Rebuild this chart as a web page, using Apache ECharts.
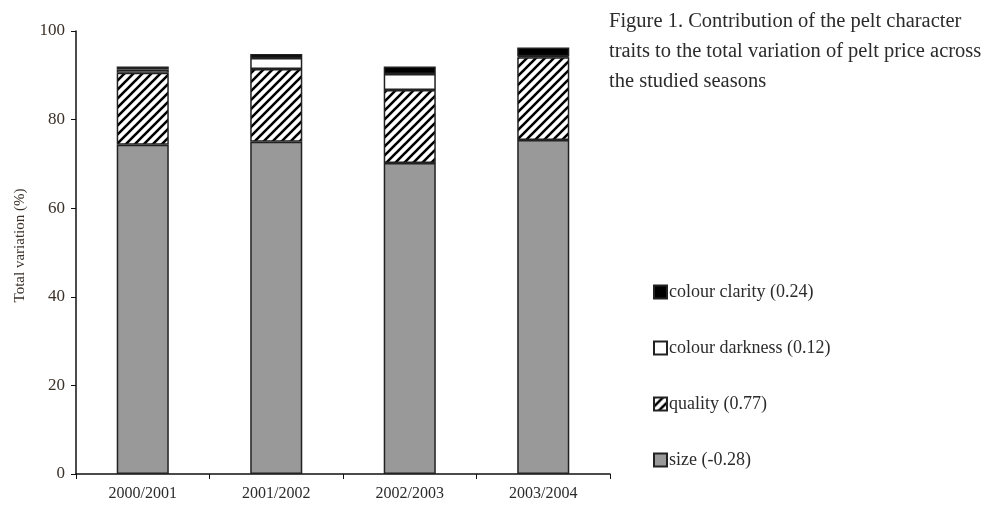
<!DOCTYPE html>
<html>
<head>
    <meta charset="UTF-8">
    <title>Pelt price variation</title>
    <style>
        html, body { margin: 0; padding: 0; background: #fff; }
        #chart { width: 989px; height: 517px; }
    </style>
</head>
<body>
    <div id="chart"></div>
    <script src="https://cdn.jsdelivr.net/npm/echarts@6/dist/echarts.min.js"></script>
    <script type="text/javascript">
        // seasons and contributions (%)
        var seasons = ['2000/2001', '2001/2002', '2002/2003', '2003/2004'];
        var size = [74.3, 75.0, 70.2, 75.4];
        var quality = [16.3, 16.4, 16.5, 18.7];
        var darkness = [0.7, 2.5, 3.6, 0.2];
        var clarity = [0.7, 0.9, 1.7, 2.0];
        var names = ['size (-0.28)', 'quality (0.77)', 'colour darkness (0.12)', 'colour clarity (0.24)'];
        var yTicks = [0, 20, 40, 60, 80, 100];

        // hatch pattern for the quality segment
        function hatch() {
            var c = document.createElement('canvas');
            c.width = 9; c.height = 9;
            var ctx = c.getContext('2d');
            ctx.fillStyle = '#fff';
            ctx.fillRect(0, 0, 9, 9);
            ctx.strokeStyle = '#000';
            ctx.lineWidth = 2.6;
            ctx.beginPath();
            for (var k = -1; k <= 1; k++) {
                ctx.moveTo(k * 9 - 1, 10);
                ctx.lineTo(k * 9 + 10, -1);
            }
            ctx.stroke();
            return c;
        }

        var chart = echarts.init(document.getElementById('chart'));
        var serif = 'Liberation Serif';
        var border = { borderColor: '#222', borderWidth: 1.5 };

        function seg(name, data, color) {
            return {
                name: name,
                type: 'bar',
                stack: 'total',
                barWidth: '39%',
                data: data,
                itemStyle: Object.assign({ color: color }, border),
                emphasis: { disabled: true }
            };
        }

        option = {
            animation: false,
            title: {
                text: 'Figure 1. Contribution of the pelt character\ntraits to the total variation of pelt price across\nthe studied seasons',
                left: 604,
                top: 2,
                textStyle: {
                    fontFamily: serif,
                    fontSize: 20.5,
                    fontWeight: 'normal',
                    color: '#2b2b2b',
                    lineHeight: 30
                }
            },
            legend: {
                orient: 'vertical',
                left: 648,
                top: 278,
                itemGap: 38,
                itemWidth: 13,
                itemHeight: 13,
                icon: 'rect',
                data: [names[3], names[2], names[1], names[0]],
                textStyle: { fontFamily: serif, fontSize: 18, color: '#2b2b2b', padding: [0, 0, 0, -3] }
            },
            grid: {
                left: 76,
                right: 379,
                top: 31,
                bottom: 43
            },
            xAxis: {
                type: 'category',
                data: seasons,
                axisLine: { lineStyle: { color: '#111', width: 1.5 } },
                axisTick: { show: true, length: 5, lineStyle: { color: '#111' } },
                axisLabel: { fontFamily: serif, fontSize: 16, color: '#2b2b2b', margin: 12 }
            },
            yAxis: {
                type: 'value',
                min: yTicks[0],
                max: yTicks[yTicks.length - 1],
                interval: 20,
                name: 'Total variation (%)',
                nameLocation: 'middle',
                nameGap: 48,
                nameTextStyle: { fontFamily: serif, fontSize: 15, color: '#3a3028', padding: [0, 0, 0, 14] },
                splitLine: { show: false },
                axisLine: { show: true, lineStyle: { color: '#111', width: 1.5 } },
                axisTick: { show: true, length: 5, lineStyle: { color: '#111' } },
                axisLabel: { fontFamily: serif, fontSize: 17, color: '#3a3028', margin: 11 }
            },
            series: [
                seg(names[0], size, '#999999'),
                seg(names[1], quality, { image: hatch(), repeat: 'repeat' }),
                seg(names[2], darkness, '#ffffff'),
                seg(names[3], clarity, '#000000')
            ]
        };
        chart.setOption(option);
    </script>
</body>
</html>
